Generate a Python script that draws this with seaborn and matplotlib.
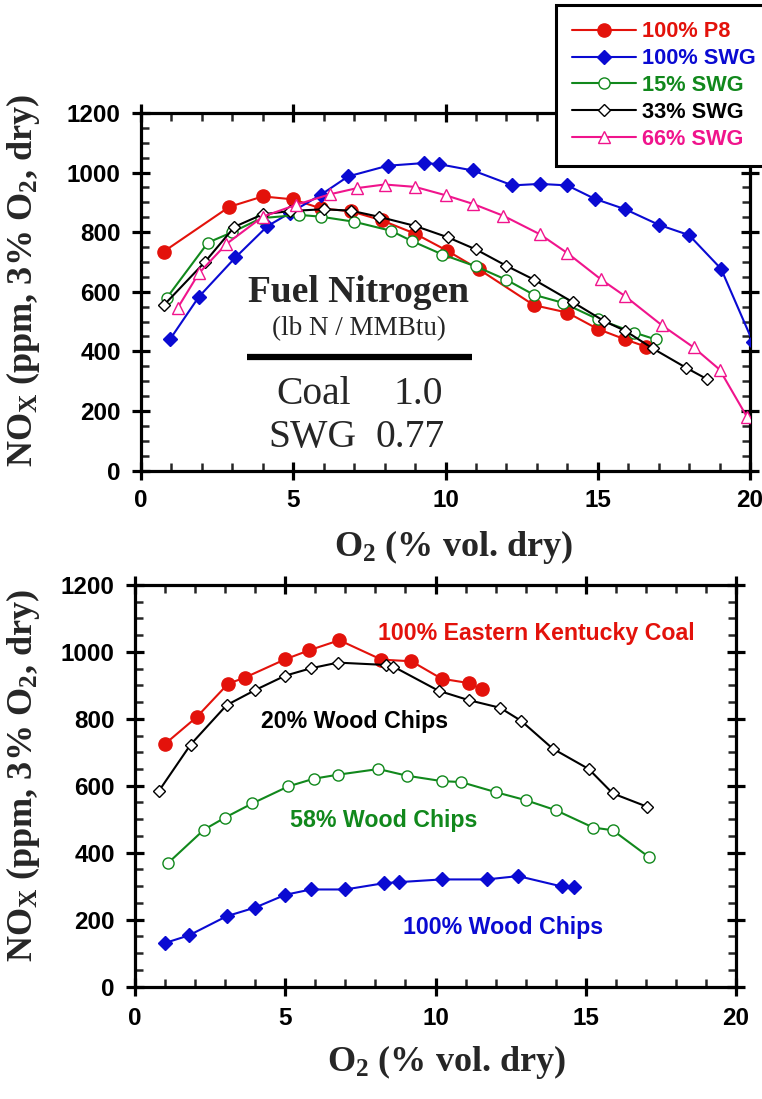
import matplotlib
matplotlib.use('Agg')
import matplotlib.pyplot as plt
import seaborn as sns
import pandas as pd
from matplotlib.ticker import MultipleLocator

# ---------------- data: top panel (switchgrass co-firing) ----------------
p8_o2 = [0.75, 2.9, 4.0, 5.0, 5.9, 6.9, 7.9, 9.0, 10.05, 11.1, 12.9, 14.0, 15.0, 15.9, 16.6]
p8_nox = [735, 885, 920, 910, 880, 870, 840, 795, 738, 675, 555, 530, 475, 440, 415]

swg100_o2 = [0.95, 1.9, 3.1, 4.15, 4.9, 5.9, 6.8, 8.1, 9.3, 9.8, 10.9, 12.2, 13.1, 14.0, 14.9,
             15.9, 17.0, 18.0, 19.05, 20.1]
swg100_nox = [440, 583, 715, 820, 865, 925, 987, 1023, 1032, 1028, 1007, 957, 962, 957, 912,
              877, 825, 790, 677, 430]

swg15_o2 = [0.85, 2.2, 3.0, 3.95, 5.2, 5.9, 7.0, 8.2, 8.9, 9.9, 11.0, 12.0, 12.9, 13.85, 15.0, 16.2, 16.9]
swg15_nox = [580, 765, 800, 847, 858, 852, 835, 805, 770, 725, 685, 640, 590, 563, 508, 463, 440]

swg33_o2 = [0.77, 2.1, 3.07, 4.0, 4.9, 6.0, 6.9, 7.8, 9.0, 10.07, 11.0, 12.0, 12.9, 14.2, 15.2,
            15.9, 16.8, 17.9, 18.6]
swg33_nox = [557, 700, 818, 860, 871, 877, 872, 852, 821, 783, 742, 687, 641, 564, 502,
             469, 410, 345, 306]

swg66_o2 = [1.2, 1.9, 2.8, 4.0, 5.1, 6.2, 7.1, 8.0, 9.0, 10.0, 10.9, 11.9, 13.1, 14.0, 15.1,
            15.9, 17.1, 18.15, 19.0, 19.9]
swg66_nox = [545, 662, 760, 852, 892, 927, 948, 960, 952, 924, 895, 855, 793, 730, 642,
             585, 488, 413, 339, 180]

top_labels = ['100% P8', '100% SWG', '15% SWG', '33% SWG', '66% SWG']

# ---------------- data: bottom panel (wood chips co-firing) ----------------
ekc_o2 = [1.0, 2.05, 3.1, 3.65, 5.0, 5.8, 6.8, 8.2, 9.2, 10.2, 11.1, 11.55]
ekc_nox = [725, 805, 905, 923, 978, 1005, 1035, 977, 972, 920, 907, 888]

wc20_o2 = [0.8, 1.85, 3.05, 4.0, 5.0, 5.85, 6.75, 8.35, 8.6, 10.1, 11.1, 12.15, 12.85, 13.9,
           15.1, 15.9, 17.05]
wc20_nox = [585, 723, 841, 886, 929, 951, 968, 961, 956, 884, 856, 833, 794, 711, 650, 577, 537]

wc58_o2 = [1.1, 2.3, 3.0, 3.9, 5.1, 5.95, 6.75, 8.1, 9.05, 10.2, 10.85, 12.0, 13.0, 14.0,
           15.25, 15.9, 17.1]
wc58_nox = [369, 469, 505, 547, 598, 621, 633, 650, 630, 614, 611, 581, 557, 527, 475, 467, 387]

wc100_o2 = [1.0, 1.8, 3.05, 4.0, 5.0, 5.85, 7.0, 8.3, 8.8, 10.2, 11.7, 12.75, 14.2, 14.6]
wc100_nox = [130, 153, 210, 236, 274, 290, 290, 309, 312, 320, 320, 330, 299, 297]

bottom_labels = ['100% Eastern Kentucky Coal', '20% Wood Chips', '58% Wood Chips', '100% Wood Chips']

x_ticks = [0, 5, 10, 15, 20]
y_ticks = [0, 200, 400, 600, 800, 1000, 1200]

# ---------------- style ----------------
sns.set_style('white')
plt.rcParams['font.family'] = ['Liberation Sans', 'DejaVu Sans']
plt.rcParams['font.weight'] = 'bold'
plt.rcParams['mathtext.fontset'] = 'custom'
plt.rcParams['mathtext.rm'] = 'Liberation Serif:bold'
plt.rcParams['mathtext.it'] = 'Liberation Serif:bold'
plt.rcParams['mathtext.bf'] = 'Liberation Serif:bold'

RED = '#e3120b'
BLUE = '#0a0ad2'
GREEN = '#11881c'
BLACK = '#000000'
PINK = '#f0148c'

fig = plt.figure(figsize=(7.62, 10.99), dpi=100)
W, H = 762.0, 1099.0
ax1 = fig.add_axes([141 / W, 1 - 470.5 / H, 609 / W, 357.5 / H])
ax2 = fig.add_axes([135 / W, 1 - 986.5 / H, 601 / W, 401.5 / H])


def draw(ax, x, y, color, marker, ms, filled, mew=1.0):
    df = pd.DataFrame({'o2': x, 'nox': y})
    sns.lineplot(data=df, x='o2', y='nox', ax=ax, sort=False, estimator=None,
                 color=color, lw=1.5, marker=marker, ms=ms,
                 mfc=color if filled else 'white', mec=color, mew=mew)
    return ax.lines[-1]


h = []
h.append(draw(ax1, p8_o2, p8_nox, RED, 'o', 9.5, True))
h.append(draw(ax1, swg100_o2, swg100_nox, BLUE, 'D', 7.0, True))
h.append(draw(ax1, swg15_o2, swg15_nox, GREEN, 'o', 8.0, False))
h.append(draw(ax1, swg33_o2, swg33_nox, BLACK, 'D', 6.3, False))
h.append(draw(ax1, swg66_o2, swg66_nox, PINK, '^', 8.5, False))
for ln in h:
    ln.set_zorder(3)

draw(ax2, ekc_o2, ekc_nox, RED, 'o', 9.5, True)
draw(ax2, wc20_o2, wc20_nox, BLACK, 'D', 6.3, False)
draw(ax2, wc58_o2, wc58_nox, GREEN, 'o', 8.0, False)
draw(ax2, wc100_o2, wc100_nox, BLUE, 'D', 7.0, True)

for ax, xpad in ((ax1, 7), (ax2, 8.5)):
    ax.set_xlim(0, 20)
    ax.set_ylim(0, 1200)
    ax.set_xticks(x_ticks)
    ax.set_yticks(y_ticks)
    ax.xaxis.set_minor_locator(MultipleLocator(1))
    ax.yaxis.set_minor_locator(MultipleLocator(50))
    for s in ax.spines.values():
        s.set_linewidth(2.3)
        s.set_color('black')
        s.set_visible(True)
    ax.tick_params(which='major', direction='inout', length=13, width=2.3,
                   top=True, right=True, bottom=True, left=True, labelsize=17.5, colors='black')
    ax.tick_params(which='minor', direction='in', length=6, width=1.8,
                   top=True, right=True, bottom=True, left=True)
    ax.tick_params(axis='x', which='major', pad=xpad)
    ax.tick_params(axis='y', which='major', pad=8)
    for t in ax.get_xticklabels() + ax.get_yticklabels():
        t.set_fontweight('bold')
    ax.set_xlabel('')
    ax.set_ylabel('')

ylab = r'NO$_\mathrm{X}$ (ppm, 3% O$_\mathrm{2}$, dry)'
xlab = r'O$_\mathrm{2}$ (% vol. dry)'
lab_kw = dict(family='Liberation Serif', weight='bold', size=26)
fig.text(32 / W, 1 - 281 / H, ylab, rotation=90, rotation_mode='anchor',
         ha='center', va='baseline', **lab_kw)
fig.text(32 / W, 1 - 776 / H, ylab, rotation=90, rotation_mode='anchor',
         ha='center', va='baseline', **lab_kw)
fig.text(454 / W, 1 - 556 / H, xlab, ha='center', va='baseline', **lab_kw)
fig.text(447 / W, 1 - 1071 / H, xlab, ha='center', va='baseline', **lab_kw)

# Fuel nitrogen annotation
ax1.text(7.15, 565, 'Fuel Nitrogen', ha='center', va='baseline',
         family='Liberation Serif', weight='bold', size=27)
ax1.text(7.15, 454, '(lb N / MMBtu)', ha='center', va='baseline',
         family='Liberation Serif', weight='normal', size=19.5)
ax1.plot([3.48, 10.87], [380, 380], color='black', lw=4.5, solid_capstyle='butt')
num_kw = dict(family='Liberation Serif', weight='normal', size=28.5, va='baseline')
ax1.text(4.45, 222, 'Coal', **num_kw)
ax1.text(8.3, 222, '1.0', **num_kw)
ax1.text(4.18, 78, 'SWG', **num_kw)
ax1.text(7.7, 78, '0.77', **num_kw)

# bottom annotations
ann_kw = dict(family='Liberation Sans', weight='bold', size=16.7, va='baseline')
ax2.text(8.1, 1035, bottom_labels[0], color=RED, **ann_kw)
ax2.text(4.18, 772, bottom_labels[1], color=BLACK, **ann_kw)
ax2.text(5.16, 477, bottom_labels[2], color=GREEN, **ann_kw)
ax2.text(8.92, 158, bottom_labels[3], color=BLUE, **ann_kw)

leg = fig.legend(h, top_labels, loc='upper left', bbox_to_anchor=(556 / W, 1 - 5 / H),
                 bbox_transform=fig.transFigure, frameon=True, fancybox=False,
                 edgecolor='black', framealpha=1, borderpad=0.75, handlelength=2.9,
                 handletextpad=0.3, labelspacing=0.27, borderaxespad=0, numpoints=1,
                 prop={'family': 'Liberation Sans', 'weight': 'bold', 'size': 15.7})
leg.get_frame().set_linewidth(2.2)
for txt, c in zip(leg.get_texts(), [RED, BLUE, GREEN, BLACK, PINK]):
    txt.set_color(c)

fig.savefig('out.png', dpi=100)
